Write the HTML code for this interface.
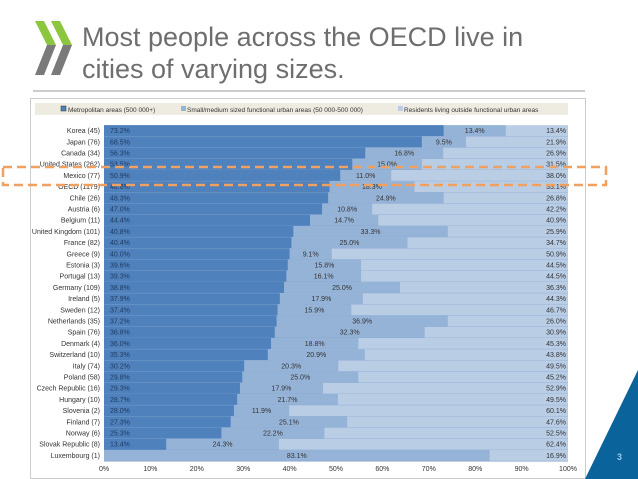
<!DOCTYPE html>
<html><head><meta charset="utf-8"><style>
html,body{margin:0;padding:0;background:#fff;width:638px;height:479px;overflow:hidden;font-family:"Liberation Sans",sans-serif}
</style></head><body>
<svg id="s" width="638" height="479" xmlns="http://www.w3.org/2000/svg">
<g>
<polygon points="35,21 44,21 56,45 47,45" fill="#8cc63f"/>
<polygon points="47,45 56,45 44,75 35,75" fill="#7a7a7a"/>
<polygon points="51,21 60,21 72,45 63,45" fill="#8cc63f"/>
<polygon points="63,45 72,45 60,75 51,75" fill="#7a7a7a"/>
</g>
<text x="82" y="46" font-size="27" fill="#6e6e6e">Most people across the OECD live in</text>
<text x="82" y="78" font-size="27" fill="#6e6e6e">cities of varying sizes.</text>
<line x1="33" y1="91" x2="585" y2="91" stroke="#999" stroke-width="1"/>
<rect x="30.5" y="98.5" width="555" height="380" fill="#fff" stroke="#ccc"/>
<g>
<rect x="35" y="103" width="533" height="12" fill="#eeece1"/>
<rect x="61" y="106" width="5" height="5" fill="#4f81bd" stroke="#333" stroke-width="0.5"/>
<text x="68" y="112" font-size="6.5" fill="#333">Metropolitan areas (500 000+)</text>
<rect x="181" y="106" width="5" height="5" fill="#95b3d7"/>
<text x="187" y="112" font-size="6.5" fill="#333">Small/medium sized functional urban areas (50 000-500 000)</text>
<rect x="398" y="106" width="5" height="5" fill="#b9cde5"/>
<text x="404" y="112" font-size="6.5" fill="#333">Residents living outside functional urban areas</text>
</g>
<g id="plot"></g>
<rect x="3" y="167" width="603" height="18" fill="none" stroke="#f0a060" stroke-width="2.5" stroke-dasharray="9,5"/>
<polygon points="585,479 638,370 638,479" fill="#0b639c"/>
<text x="617" y="460" font-size="9" font-weight="bold" fill="#9cc8e8">3</text>
</svg>
<script>
const countries=["Korea (45)","Japan (76)","Canada (34)","United States (262)","Mexico (77)","OECD (1179)","Chile (26)","Austria (6)","Belgium (11)","United Kingdom (101)","France (82)","Greece (9)","Estonia (3)","Portugal (13)","Germany (109)","Ireland (5)","Sweden (12)","Netherlands (35)","Spain (76)","Denmark (4)","Switzerland (10)","Italy (74)","Poland (58)","Czech Republic (16)","Hungary (10)","Slovenia (2)","Finland (7)","Norway (6)","Slovak Republic (8)","Luxembourg (1)"];
const metro=[73.2,68.5,56.3,53.5,50.9,48.6,48.3,47.0,44.4,40.8,40.4,40.0,39.6,39.3,38.8,37.9,37.4,37.2,36.8,36.0,35.3,30.2,29.8,29.3,28.7,28.0,27.3,25.3,13.4,0];
const small=[13.4,9.5,16.8,15.0,11.0,18.3,24.9,10.8,14.7,33.3,25.0,9.1,15.8,16.1,25.0,17.9,15.9,36.9,32.3,18.8,20.9,20.3,25.0,17.9,21.7,11.9,25.1,22.2,24.3,83.1];
const rest=[13.4,21.9,26.9,31.5,38.0,33.1,26.8,42.2,40.9,25.9,34.7,50.9,44.5,44.5,36.3,44.3,46.7,26.0,30.9,45.3,43.8,49.5,45.2,52.9,49.5,60.1,47.6,52.5,62.4,16.9];
const ticks=[0,10,20,30,40,50,60,70,80,90,100];
const NS="http://www.w3.org/2000/svg";
const g=document.getElementById('plot');
const x=v=>104+v*4.64;
const rowTop=i=>125.2+i*11.2;
const RH=11.2;
function mk(t,a){const e=document.createElementNS(NS,t);for(const k in a)e.setAttribute(k,a[k]);g.appendChild(e);return e;}
const fmt=v=>v.toFixed(1)+'%';
countries.forEach((c,i)=>{
 const y=rowTop(i), cy=y+RH/2+2.3;
 const r1=mk('rect',{x:x(0),y:y,width:x(100)-x(0),height:RH,fill:'#b9cde5'});
 
 
 const r2=mk('rect',{x:x(0),y:y,width:x(metro[i]+small[i])-x(0),height:RH,fill:'#95b3d7'});
 
 
 if(metro[i]>0){const r3=mk('rect',{x:x(0),y:y,width:x(metro[i])-x(0),height:RH,fill:'#4f81bd'});
 
 }
 const ln=mk('line',{x1:x(0),x2:x(100),y1:y+RH,y2:y+RH,stroke:'#7f9fcc','stroke-width':0.6});
 
 
 const lab=mk('text',{x:100,y:cy,'font-size':7,'text-anchor':'end',fill:'#333'});lab.textContent=c;
 
 
 if(metro[i]>0){const t=mk('text',{x:110,y:cy,'font-size':7,fill:'#1f3a60'});t.textContent=fmt(metro[i]);
 
 }
 const t2=mk('text',{x:(x(metro[i])+x(metro[i]+small[i]))/2,y:cy,'font-size':7,'text-anchor':'middle',fill:'#333'});t2.textContent=fmt(small[i]);
 
 
 const t3=mk('text',{x:566,y:cy,'font-size':7,'text-anchor':'end',fill:'#333'});t3.textContent=fmt(rest[i]);
 
 
});
ticks.forEach(v=>{const t=mk('text',{x:x(v),y:471,'font-size':7,'text-anchor':'middle',fill:'#333'});t.textContent=v+'%';
 
 });
</script>
</body></html>
